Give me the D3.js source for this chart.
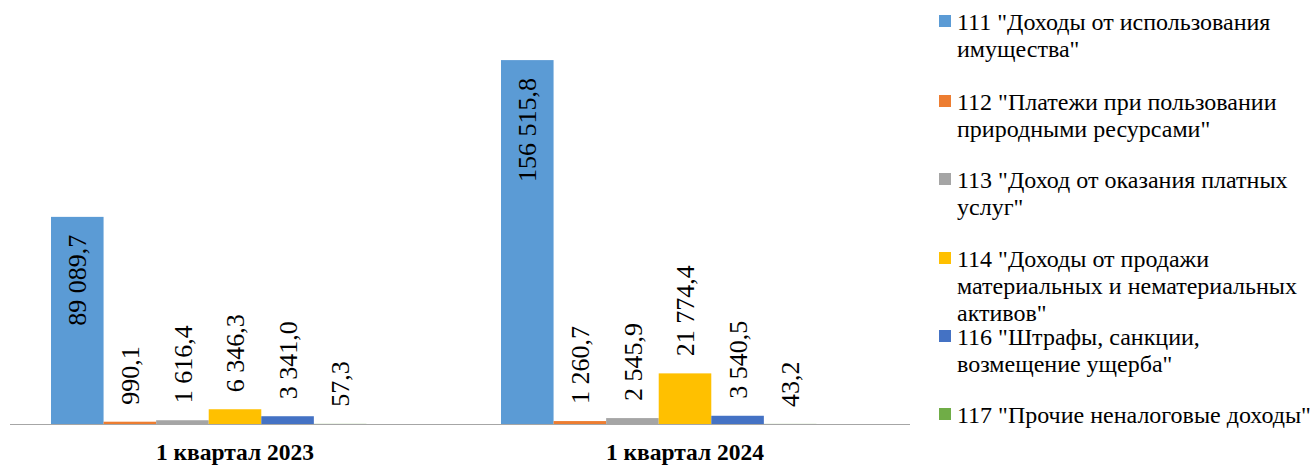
<!DOCTYPE html>
<html>
<head>
<meta charset="utf-8">
<script src="https://cdn.jsdelivr.net/npm/d3@7"></script>
<style>
  body { margin: 0; background: #fff; }
</style>
</head>
<body>
<div id="chart"></div>
<script>
// data
var quarters = ["1 квартал 2023", "1 квартал 2024"];
var seriesNames = [
  "111 \"Доходы от использования\nимущества\"",
  "112 \"Платежи при пользовании\nприродными ресурсами\"",
  "113 \"Доход от оказания платных\nуслуг\"",
  "114 \"Доходы от продажи\nматериальных и нематериальных\nактивов\"",
  "116 \"Штрафы, санкции,\nвозмещение ущерба\"",
  "117 \"Прочие неналоговые доходы\""
];
var colors = ["#5B9BD5", "#ED7D31", "#A5A5A5", "#FFC000", "#4472C4", "#70AD47"];
var values2023 = [89089.7, 990.1, 1616.4, 6346.3, 3341.0, 57.3];
var values2024 = [156515.8, 1260.7, 2545.9, 21774.4, 3540.5, 43.2];

var svgWidth = 1315;
var svgHeight = 465;
var font = "'Liberation Serif'";

var svg = d3.select("#chart")
  .append("svg")
  .attr("width", svgWidth)
  .attr("height", svgHeight);

var data = quarters.map(function(q, i) {
  var vals = i == 0 ? values2023 : values2024;
  return { quarter: q, values: vals.map(function(v, j) { return { s: j, v: v }; }) };
});

// outer scale for quarters, inner scale has 7 slots (Excel leaves one empty)
var x0 = d3.scaleBand()
  .domain(quarters)
  .range([10, 910]);

var x1 = d3.scaleBand()
  .domain(d3.range(7))
  .range([41, x0.bandwidth() - 41]);

var y = d3.scaleLinear()
  .domain([0, 180000])
  .range([424, 5.5]);

var fmt = function(v) {
  var s = d3.format(",.1f")(v);
  return s.replace(/,/g, " ").replace(".", ",");
};

var groups = svg.selectAll(".grp")
  .data(data)
  .enter()
  .append("g")
  .attr("class", "grp")
  .attr("transform", function(d) { return "translate(" + x0(d.quarter) + ",0)"; });

groups.selectAll("rect")
  .data(function(d) { return d.values; })
  .enter()
  .append("rect")
  .attr("x", function(d) { return x1(d.s); })
  .attr("y", function(d) { return y(d.v); })
  .attr("width", x1.bandwidth())
  .attr("height", function(d) { return y(0) - y(d.v); })
  .attr("fill", function(d) { return colors[d.s]; });

// value labels, rotated
groups.selectAll(".lbl")
  .data(function(d) { return d.values; })
  .enter()
  .append("text")
  .attr("class", "lbl")
  .attr("transform", function(d) {
    var cx = x1(d.s) + x1.bandwidth() / 2;
    var inside = (y(0) - y(d.v)) > 150;
    var yy = inside ? y(d.v) + 18 : y(d.v) - 17;
    return "translate(" + cx + "," + yy + ") rotate(-90)";
  })
  .attr("text-anchor", function(d) { return (y(0) - y(d.v)) > 150 ? "end" : "start"; })
  .attr("dy", "0.35em")
  .style("font-family", font)
  .style("font-size", "26px")
  .text(function(d) { return fmt(d.v); });

// x axis line
svg.append("line")
  .attr("x1", 10)
  .attr("x2", 910)
  .attr("y1", y(0) + 0.5)
  .attr("y2", y(0) + 0.5)
  .attr("stroke", "#a6a6a6")
  .attr("stroke-width", 1);

// category labels
svg.selectAll(".cat")
  .data(quarters)
  .enter()
  .append("text")
  .attr("class", "cat")
  .attr("x", function(d) { return x0(d) + x0.bandwidth() / 2; })
  .attr("y", 460)
  .attr("text-anchor", "middle")
  .style("font-family", font)
  .style("font-size", "23.5px")
  .style("font-weight", "bold")
  .text(function(d) { return d; });

// legend
var legendY = [30, 110, 188, 267, 345, 423];
var legend = svg.selectAll(".leg")
  .data(seriesNames)
  .enter()
  .append("g")
  .attr("class", "leg")
  .attr("transform", function(d, i) { return "translate(939," + legendY[i] + ")"; });

legend.append("rect")
  .attr("x", 0)
  .attr("y", -15)
  .attr("width", 12)
  .attr("height", 12)
  .attr("fill", function(d, i) { return colors[i]; });

legend.append("text")
  .attr("x", 18)
  .style("font-family", font)
  .style("font-size", "24px")
  .selectAll("tspan")
  .data(function(d) { return d.split("\n"); })
  .enter()
  .append("tspan")
  .attr("x", 18)
  .attr("dy", function(d, i) { return i == 0 ? 0 : 27; })
  .text(function(d) { return d; });
</script>
</body>
</html>
